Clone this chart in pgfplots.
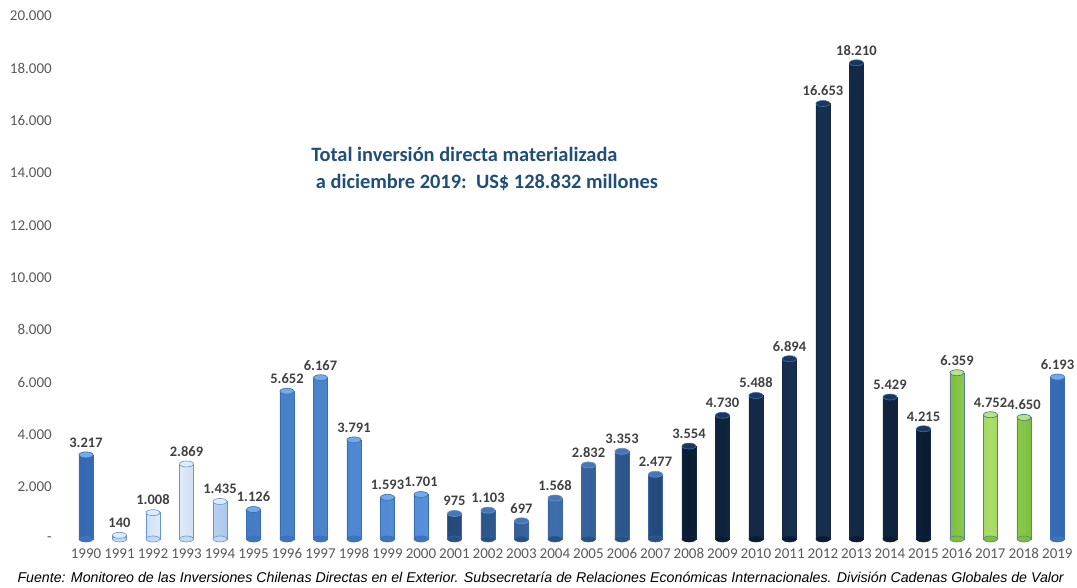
\documentclass[border=0pt]{standalone}
\usepackage{fontspec}
\setmainfont{Carlito}
\newfontfamily\arialfont{Liberation Sans}
\usepackage{pgfplots}
\pgfplotsset{compat=1.18}

\definecolor{labelgray}{RGB}{64,64,64}
\definecolor{tickgray}{RGB}{89,89,89}
\definecolor{titleblue}{RGB}{31,78,121}
% bar colours: edge, centre, outline, top fill
\definecolor{midE}{RGB}{52,105,180}
\definecolor{midC}{RGB}{100,160,230}
\definecolor{midO}{RGB}{58,110,180}
\definecolor{midT}{RGB}{115,170,232}
\definecolor{lgtE}{RGB}{170,199,236}
\definecolor{lgtC}{RGB}{234,242,252}
\definecolor{lgtO}{RGB}{100,148,210}
\definecolor{lgtT}{RGB}{222,235,250}
\definecolor{stlE}{RGB}{35,72,122}
\definecolor{stlC}{RGB}{62,110,172}
\definecolor{stlO}{RGB}{60,100,160}
\definecolor{stlT}{RGB}{70,118,180}
\definecolor{navE}{RGB}{10,28,50}
\definecolor{navC}{RGB}{25,50,82}
\definecolor{navO}{RGB}{20,40,70}
\definecolor{navT}{RGB}{28,55,90}
\definecolor{grnE}{RGB}{125,190,60}
\definecolor{grnC}{RGB}{170,222,105}
\definecolor{grnO}{RGB}{90,130,150}
\definecolor{grnT}{RGB}{185,228,125}

\pgfdeclareplotmark{cyltop}{%
  \pgfpathellipse{\pgfpointorigin}{\pgfqpoint{7pt}{0pt}}{\pgfqpoint{0pt}{3pt}}%
  \pgfusepathqfillstroke}

\pgfplotsset{
  cyl/.style n args={3}{ybar, bar width=14pt, bar shift=0pt,
    draw=#3, line width=0.4pt,
    left color=#1, right color=#1, middle color=#2,
    nodes near coords,
    nodes near coords style={font=\bfseries\fontsize{14.5}{14.5}\selectfont,
      text=labelgray, anchor=south, yshift=4pt,
      /pgf/number format/.cd, fixed, precision=0, 1000 sep={.}}},
  top/.style 2 args={only marks, mark=cyltop,
    mark options={fill=#1, draw=#2, line width=0.6pt}},
}

\begin{document}
\begin{tikzpicture}
\begin{axis}[
  at={(69.25pt,49pt)}, anchor=south west,
  scale only axis, width=1005pt, height=523pt,
  xmin=1989.5, xmax=2019.5, ymin=0, ymax=20000,
  axis line style={draw=none}, major tick style={draw=none},
  scaled y ticks=false,
  xtick={1990,...,2019}, ytick={0,2000,...,20000},
  yticklabels={-,2.000,4.000,6.000,8.000,10.000,12.000,14.000,16.000,18.000,20.000},
  xticklabel style={font=\fontsize{15}{15}\selectfont, text=tickgray, yshift=-6pt,
    /pgf/number format/1000 sep={}},
  yticklabel style={font=\fontsize{15}{15}\selectfont, text=tickgray, xshift=-14pt},
  /pgf/number format/assume math mode=true,
  clip=false,
]
% rounded bottoms, drawn first so the bars hide their upper half
\addplot[top={midE!80!midC}{midO}] coordinates {(1990,0) (1995,0) (1996,0) (1997,0) (1998,0) (1999,0) (2000,0) (2019,0)};
\addplot[top={lgtE!60!lgtC}{lgtO}] coordinates {(1991,0) (1992,0) (1993,0) (1994,0)};
\addplot[top={stlE!80!stlC}{stlO}] coordinates {(2001,0) (2002,0) (2003,0) (2004,0) (2005,0) (2006,0) (2007,0)};
\addplot[top={navE}{navO}] coordinates {(2008,0) (2009,0) (2010,0) (2011,0) (2012,0) (2013,0) (2014,0) (2015,0)};
\addplot[top={grnE}{grnO}] coordinates {(2016,0) (2017,0) (2018,0)};

% 1990, 1995-2000, 2019
\addplot[cyl={midE}{midC}{midO}] coordinates {(1990,3217) (1995,1126) (1996,5652) (1997,6167) (1998,3791) (1999,1593) (2000,1701) (2019,6193)};
% 1991-1994
\addplot[cyl={lgtE}{lgtC}{lgtO}] coordinates {(1991,140) (1992,1008) (1993,2869) (1994,1435)};
% 2001-2007
\addplot[cyl={stlE}{stlC}{stlO}] coordinates {(2001,975) (2002,1103) (2003,697) (2004,1568) (2005,2832) (2006,3353) (2007,2477)};
% 2008-2015
\addplot[cyl={navE}{navC}{navO}] coordinates {(2008,3554) (2009,4730) (2010,5488) (2011,6894) (2012,16653) (2013,18210) (2014,5429) (2015,4215)};
% 2016-2018
\addplot[cyl={grnE}{grnC}{grnO}] coordinates {(2016,6359) (2017,4752) (2018,4650)};

% cylinder tops
\addplot[top={midT}{midO}] coordinates {(1990,3217) (1995,1126) (1996,5652) (1997,6167) (1998,3791) (1999,1593) (2000,1701) (2019,6193)};
\addplot[top={lgtT}{lgtO}] coordinates {(1991,140) (1992,1008) (1993,2869) (1994,1435)};
\addplot[top={stlT}{lgtO}] coordinates {(2001,975) (2002,1103) (2003,697) (2004,1568) (2005,2832) (2006,3353) (2007,2477)};
\addplot[top={navT}{midO}] coordinates {(2008,3554) (2009,4730) (2010,5488) (2011,6894) (2012,16653) (2013,18210) (2014,5429) (2015,4215)};
\addplot[top={grnT}{midO}] coordinates {(2016,6359) (2017,4752) (2018,4650)};

\node[anchor=north west, align=left, text=titleblue,
  font=\bfseries\fontsize{20.4}{27}\selectfont] at (axis cs:1996.62,15100)
  {Total inversión directa materializada\\ \ a diciembre 2019:\ \ US\$ 128.832 millones};
\end{axis}
\node[anchor=base west, font=\arialfont\itshape\fontsize{14.2}{14.2}\selectfont] at (14pt,5pt)
  {Fuente: Monitoreo de las Inversiones Chilenas Directas en el Exterior. Subsecretaría de Relaciones Económicas Internacionales. División Cadenas Globales de Valor};
\pgfresetboundingbox
\path[use as bounding box] (0,0) rectangle (1077pt,588pt);
\end{tikzpicture}
\end{document}
